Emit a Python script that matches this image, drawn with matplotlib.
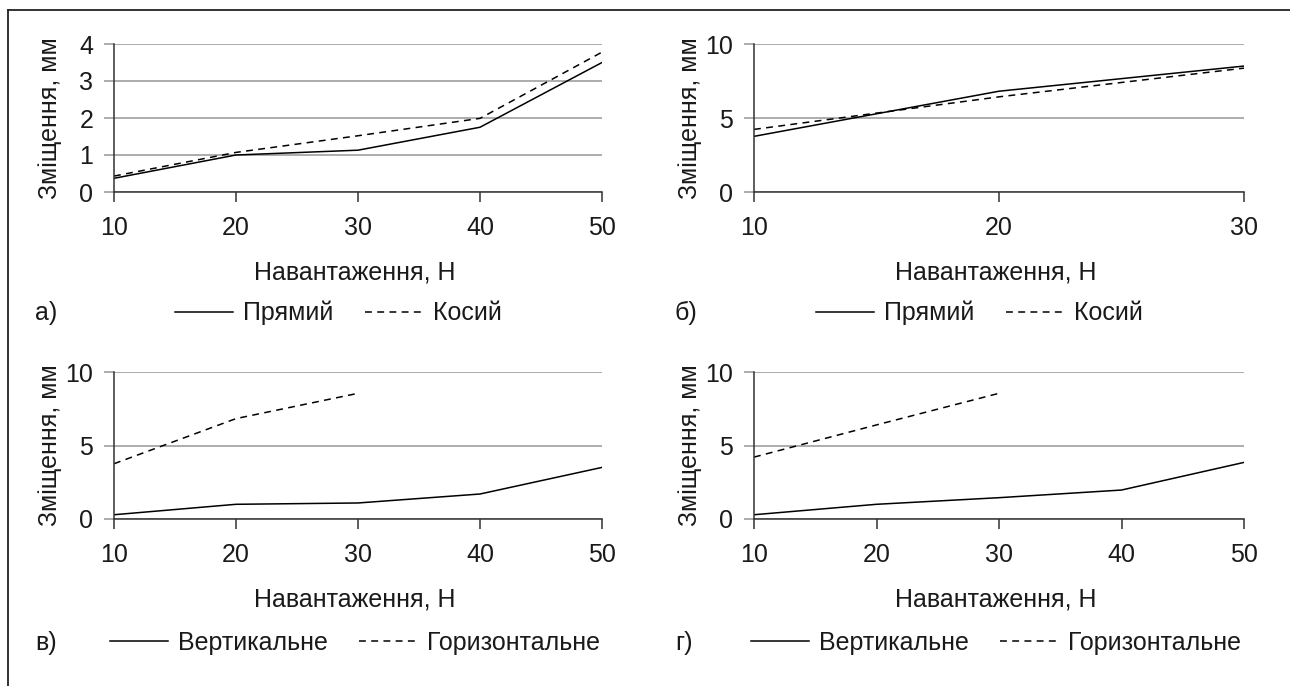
import matplotlib
matplotlib.use("Agg")
import matplotlib.pyplot as plt
from matplotlib.lines import Line2D

plt.rcParams['font.family'] = ['Liberation Sans Narrow', 'Liberation Sans', 'DejaVu Sans']

# ---------------------------------------------
# Data
# ---------------------------------------------
load5 = [10, 20, 30, 40, 50]
load3 = [10, 20, 30]

a_direct = [0.37, 1.00, 1.13, 1.75, 3.50]
a_oblique = [0.43, 1.07, 1.52, 1.99, 3.78]

b_direct = [3.76, 6.81, 8.51]
b_oblique = [4.23, 6.43, 8.37]

c_vertical = [0.29, 1.00, 1.09, 1.70, 3.51]
c_horizontal = [3.76, 6.83, 8.55]

d_vertical = [0.29, 1.00, 1.45, 1.97, 3.85]
d_horizontal = [4.21, 6.40, 8.55]

ylabel = "Зміщення, мм"
xlabel = "Навантаження, Н"

W, H = 1290, 686
FS = 18
GRID = "#a6a6a6"
AXIS = "#333333"
TXT = "#1a1a1a"
DASH = (0, (4.5, 3.5))

fig = plt.figure(figsize=(W / 100, H / 100), dpi=100)


def px_axes(left, top, right, bottom):
    return fig.add_axes([left / W, 1 - bottom / H, (right - left) / W, (bottom - top) / H])


def style(ax, xs, yticks):
    for s in ["top", "right"]:
        ax.spines[s].set_visible(False)
    for s in ["left", "bottom"]:
        ax.spines[s].set_color(AXIS)
        ax.spines[s].set_linewidth(1.1)
    ax.set_xlim(xs[0], xs[-1])
    ax.set_xticks(xs)
    ax.set_ylim(yticks[0], yticks[-1])
    ax.set_yticks(yticks)
    ax.yaxis.grid(True, color=GRID, linewidth=1.3)
    ax.set_axisbelow(True)
    ax.tick_params(axis="x", direction="out", length=7, width=1.1, color=AXIS,
                   labelsize=FS, pad=10)
    ax.tick_params(axis="y", direction="out", length=7, width=1.3, color=GRID,
                   labelsize=FS, pad=8)
    # the zero tick sits on the x axis line, so it is drawn dark
    ax.yaxis.get_major_ticks()[0].tick1line.set_color(AXIS)
    for lab in ax.get_xticklabels() + ax.get_yticklabels():
        lab.set_color(TXT)


def text_px(x, y, s, **kw):
    fig.text(x / W, 1 - y / H, s, fontsize=FS, color=TXT, **kw)


def legend_px(x, y, labels):
    handles = [Line2D([], [], color="black", lw=1.1),
               Line2D([], [], color="black", lw=1.1, linestyle=DASH)]
    fig.legend(handles, labels, loc="center left", bbox_to_anchor=(x / W, 1 - y / H),
               ncol=2, frameon=False, fontsize=FS, handlelength=2.3,
               handletextpad=0.42, columnspacing=1.25, borderpad=0, borderaxespad=0,
               labelcolor=TXT)


panels = [
    # axes box in pixels, x, solid, dashed x, dashed, yticks, tag, legend labels, legend x/y, offset
    ((114, 44, 602, 192), load5, a_direct, load5, a_oblique, [0, 1, 2, 3, 4], "а)",
     ["Прямий", "Косий"], 175, 313, 0),
    ((754, 44, 1244, 192), load3, b_direct, load3, b_oblique, [0, 5, 10], "б)",
     ["Прямий", "Косий"], 816, 313, 640),
    ((114, 372, 602, 519), load5, c_vertical, load3, c_horizontal, [0, 5, 10], "в)",
     ["Вертикальне", "Горизонтальне"], 110, 643, 0),
    ((754, 372, 1244, 519), load5, d_vertical, load3, d_horizontal, [0, 5, 10], "г)",
     ["Вертикальне", "Горизонтальне"], 751, 643, 640),
]

for box, xs, solid, xs2, dashed, yt, tag, labels, lx, ly, off in panels:
    ax = px_axes(*box)
    ax.plot(xs, solid, color="black", lw=1.1, solid_joinstyle="miter")
    ax.plot(xs2, dashed, color="black", lw=1.1, linestyle=DASH)
    style(ax, xs, yt)
    left, top, right, bottom = box
    text_px(off + 50, (top + bottom) / 2, ylabel, rotation=90, ha="center", va="center")
    text_px((left + right) / 2 - 3, bottom + 80, xlabel, ha="center", va="center")
    text_px(off + 35, ly, tag, ha="left", va="center")
    legend_px(lx, ly, labels)

# outer frame (top and left edges only are visible)
fig.add_artist(Line2D([8 / W, 1], [1 - 10 / H, 1 - 10 / H], color="#222222", lw=1.3,
                      transform=fig.transFigure))
fig.add_artist(Line2D([8 / W, 8 / W], [0, 1 - 10 / H], color="#222222", lw=1.3,
                      transform=fig.transFigure))

fig.savefig("out.png", dpi=100)
